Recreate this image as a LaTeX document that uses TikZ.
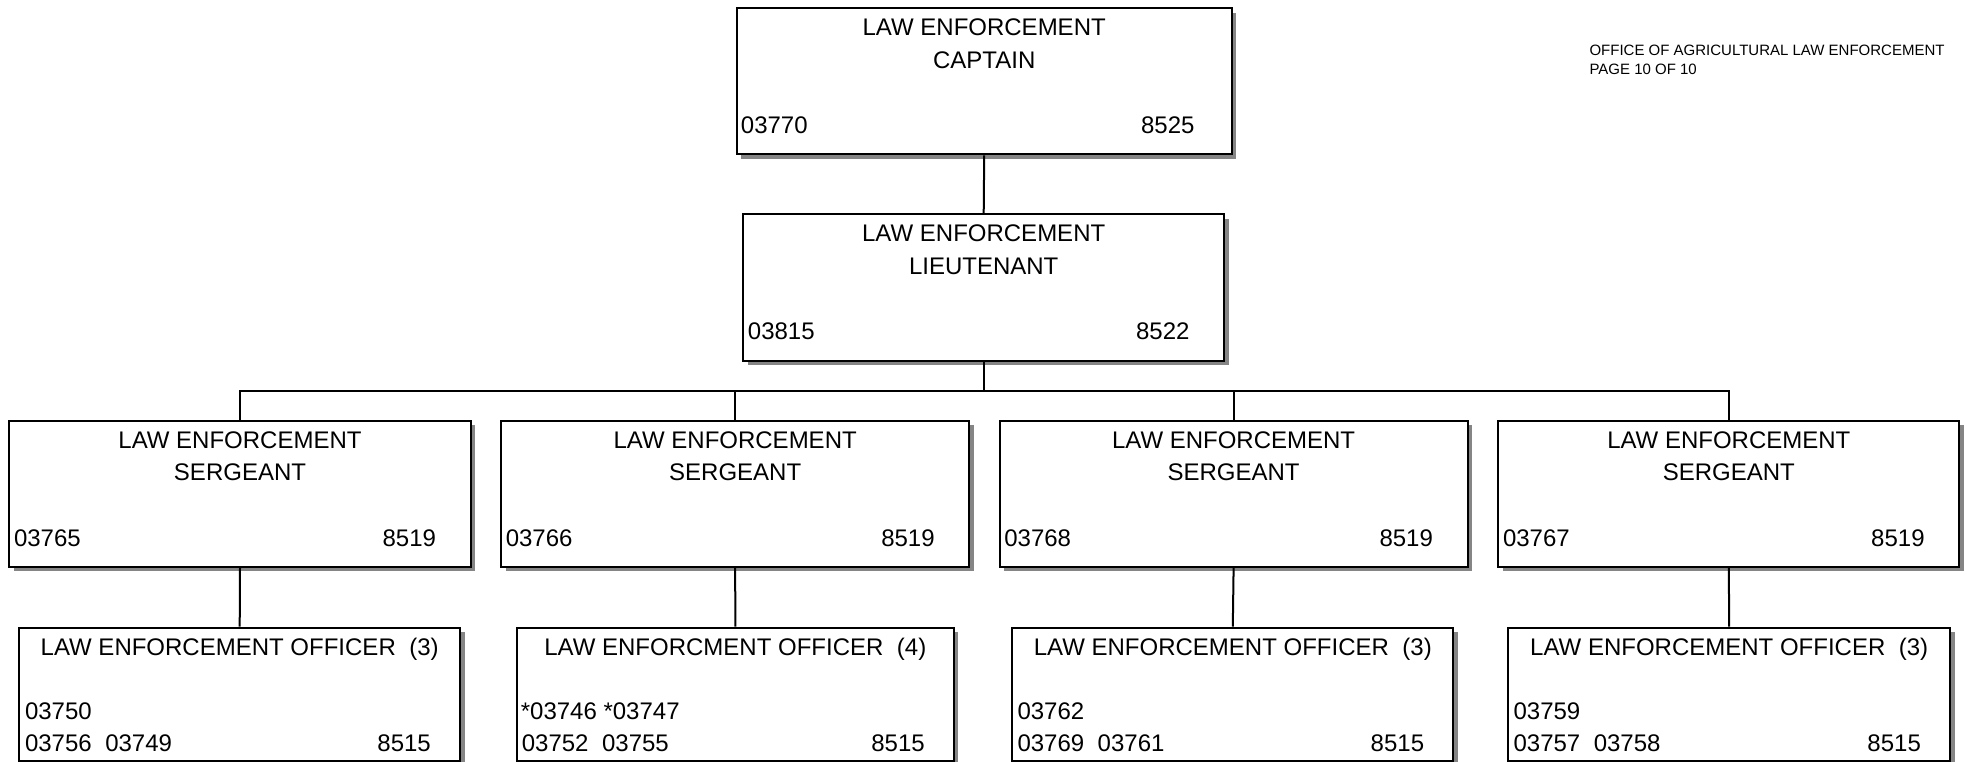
\documentclass[tikz,border=0pt]{standalone}
\usepackage{fontspec}
\setmainfont{Liberation Sans}
\usetikzlibrary{calc,shadows}
\definecolor{shadowgray}{HTML}{858585}
\tikzset{
  orgbox/.style={draw=black, line width=2pt, fill=white, rectangle, inner sep=0pt,
    drop shadow={shadow xshift=4.5pt, shadow yshift=-4.5pt, fill=shadowgray, opacity=1}},
  link/.style={draw=black, line width=2pt},
  big/.style={inner sep=0pt, font=\fontsize{24}{28}\selectfont},
  ttl/.style={big, anchor=base},
  numl/.style={big, anchor=base west},
  numr/.style={big, anchor=base east},
  hdr/.style={inner sep=0pt, anchor=base west, font=\fontsize{15}{18}\selectfont},
}
\newcommand{\gap}{\hspace{13.5pt}}
\begin{document}
\begin{tikzpicture}[x=1pt, y=-1pt]
\useasboundingbox (0,0) rectangle (1967,762);

% captain and lieutenant
\node[orgbox, minimum width=495pt, minimum height=146pt] (cap) at (984.2,81.3) {};
\node[orgbox, minimum width=481pt, minimum height=146.4pt] (lt) at (983.7,287.5) {};

% sergeants
\node[orgbox, minimum width=461.4pt, minimum height=146.3pt] (s1) at (240,493.8) {};
\node[orgbox, minimum width=468.3pt, minimum height=146.3pt] (s2) at (735.2,493.8) {};
\node[orgbox, minimum width=468pt, minimum height=146.3pt] (s3) at (1233.6,493.8) {};
\node[orgbox, minimum width=461pt, minimum height=146.3pt] (s4) at (1728.8,493.8) {};

% officers
\node[orgbox, minimum width=440.7pt, minimum height=133.5pt] (o1) at (239.7,694.3) {};
\node[orgbox, minimum width=437.3pt, minimum height=133.5pt] (o2) at (735.3,694.3) {};
\node[orgbox, minimum width=441pt, minimum height=133.5pt] (o3) at (1232.8,694.3) {};
\node[orgbox, minimum width=441.7pt, minimum height=133.5pt] (o4) at (1729.2,694.3) {};

% connectors
\coordinate (bus) at (0,390.7);
\draw[link] (cap.south) -- (lt.north);
\draw[link] (lt.south) -- (lt.south |- bus);
\draw[link] (s1.north) -- (s1.north |- bus) -- (s4.north |- bus) -- (s4.north);
\draw[link] (s2.north) -- (s2.north |- bus);
\draw[link] (s3.north) -- (s3.north |- bus);
\draw[link] (s1.south) -- (o1.north);
\draw[link] (s2.south) -- (o2.north);
\draw[link] (s3.south) -- (o3.north);
\draw[link] (s4.south) -- (o4.north);

% captain text
\node[ttl] (capt1) at ($(cap.north)+(0,28.4)$) {LAW ENFORCEMENT};
\node[ttl] (capt2) at ($(cap.north)+(0,61)$) {CAPTAIN};
\node[numl] (capn1) at ($(cap.north west)+(5,126.7)$) {03770};
\node[numr] (capn2) at ($(cap.north east)+(-38,126.7)$) {8525};

% lieutenant text
\node[ttl] (ltt1) at ($(lt.north)+(0,28.6)$) {LAW ENFORCEMENT};
\node[ttl] (ltt2) at ($(lt.north)+(0,61)$) {LIEUTENANT};
\node[numl] (ltn1) at ($(lt.north west)+(5.5,126)$) {03815};
\node[numr] (ltn2) at ($(lt.north east)+(-35.5,126)$) {8522};

% sergeant text
\foreach \s/\num in {s1/03765, s2/03766, s3/03768, s4/03767}{
  \node[ttl] (\s t1) at ($(\s.north)+(0,28.6)$) {LAW ENFORCEMENT};
  \node[ttl] (\s t2) at ($(\s.north)+(0,61)$) {SERGEANT};
  \node[numl] (\s n1) at ($(\s.north west)+(5.5,126.5)$) {\num};
  \node[numr] (\s n2) at ($(\s.north east)+(-35.5,126.5)$) {8519};
}

% officer text
\node[ttl] (o1t) at ($(o1.north)+(0,28.7)$) {LAW ENFORCEMENT OFFICER\gap(3)};
\node[numl] (o1a) at ($(o1.north west)+(6.5,93.3)$) {03750};
\node[numl] (o1b) at ($(o1.north west)+(6.5,125)$) {03756\gap03749};
\node[numr] (o1c) at ($(o1.north east)+(-30,125)$) {8515};

\node[ttl] (o2t) at ($(o2.north)+(0,28.7)$) {LAW ENFORCMENT OFFICER\gap(4)};
\node[numl] (o2a) at ($(o2.north west)+(5,93.3)$) {*03746 *03747};
\node[numl] (o2b) at ($(o2.north west)+(6,125)$) {03752\gap03755};
\node[numr] (o2c) at ($(o2.north east)+(-30,125)$) {8515};

\node[ttl] (o3t) at ($(o3.north)+(0,28.7)$) {LAW ENFORCEMENT OFFICER\gap(3)};
\node[numl] (o3a) at ($(o3.north west)+(6,93.3)$) {03762};
\node[numl] (o3b) at ($(o3.north west)+(6,125)$) {03769\gap03761};
\node[numr] (o3c) at ($(o3.north east)+(-30,125)$) {8515};

\node[ttl] (o4t) at ($(o4.north)+(0,28.7)$) {LAW ENFORCEMENT OFFICER\gap(3)};
\node[numl] (o4a) at ($(o4.north west)+(6,93.3)$) {03759};
\node[numl] (o4b) at ($(o4.north west)+(6,125)$) {03757\gap03758};
\node[numr] (o4c) at ($(o4.north east)+(-30,125)$) {8515};

% page header
\node[hdr] (hdr1) at (1589.3,56) {OFFICE OF AGRICULTURAL LAW ENFORCEMENT};
\node[hdr] (hdr2) at (1589.3,75) {PAGE 10 OF 10};
\end{tikzpicture}
\end{document}
